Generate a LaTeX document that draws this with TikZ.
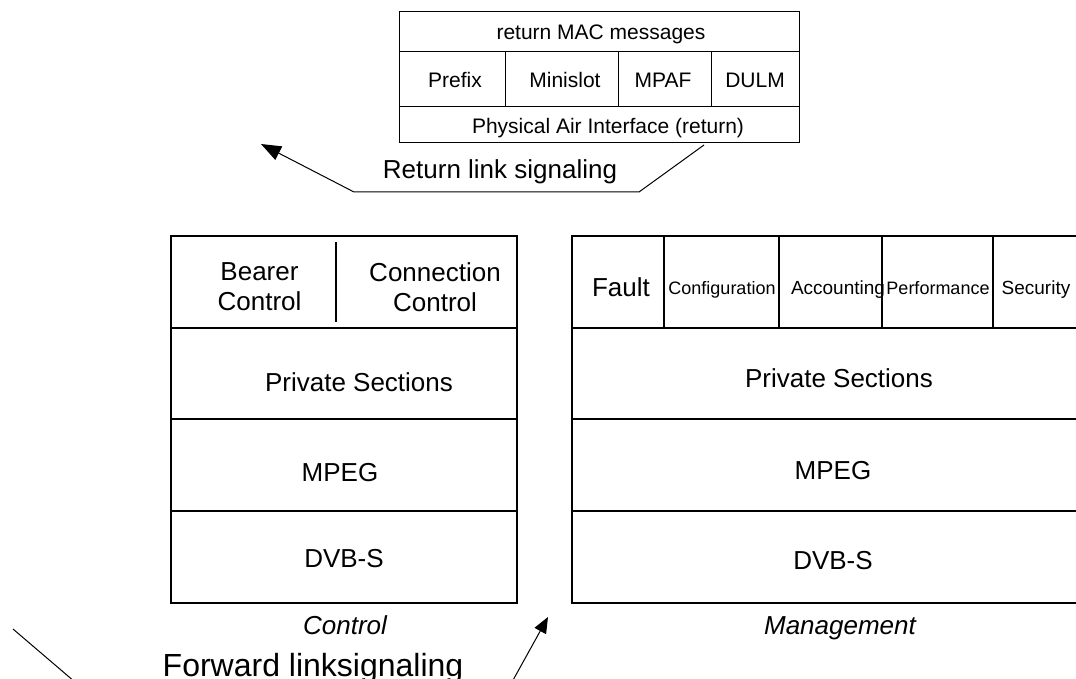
\documentclass[tikz,border=0pt]{standalone}
\usepackage{fontspec}
\setmainfont{Liberation Sans}
\usetikzlibrary{arrows.meta}
\tikzset{
  frame/.style={draw=black, line width=1.3pt},
  hframe/.style={draw=black, line width=1.6pt},
  thin frame/.style={draw=black, line width=1pt},
  big/.style={font=\fontsize{26}{30}\selectfont, inner sep=0pt, anchor=base},
  two/.style={font=\fontsize{26}{30}\selectfont, inner sep=0pt, align=center},
  small/.style={font=\fontsize{21}{25}\selectfont, inner sep=0pt, anchor=base},
  mg/.style={font=\fontsize{19}{22}\selectfont, inner sep=0pt, anchor=base},
  mgs/.style={font=\fontsize{18}{22}\selectfont, inner sep=0pt, anchor=base},
  capt/.style={font=\itshape\fontsize{26}{30}\selectfont, inner sep=0pt, anchor=base},
  sigtxt/.style={font=\fontsize{26}{30}\selectfont, inner sep=0pt, anchor=base},
  fwdtxt/.style={font=\fontsize{32}{36}\selectfont, inner sep=0pt, anchor=base},
  sig/.style={draw=black, line width=1pt},
}
\begin{document}
\begin{tikzpicture}[x=1pt,y=-1pt]
\useasboundingbox (0,0) rectangle (1076,679);
\clip (0,0) rectangle (1076,679);
% ---------- top box (return MAC) ----------
\draw[thin frame] (399,12) rectangle (799,143);
\draw[thin frame] (399,52) -- (799,52);
\draw[thin frame] (399,107) -- (799,107);
\draw[thin frame] (505,52) -- (505,107);
\draw[thin frame] (618,52) -- (618,107);
\draw[thin frame] (711,52) -- (711,107);
\node[small] (mac) at (601,40) {return MAC messages};
\node[small] (prefix) at (455,88) {Prefix};
\node[small] (minislot) at (565,88) {Minislot};
\node[small] (mpaf) at (663,88) {MPAF};
\node[small] (dulm) at (755,88) {DULM};
\node[small] (pai) at (608,134) {Physical Air Interface (return)};
% return link signalling
\coordinate (r0) at (704,145);
\coordinate (r1) at (639,192);
\coordinate (r2) at (354,192);
\coordinate (r3) at (261,144);
\draw[sig, -{Triangle[length=20pt,width=15pt]}] (r0) -- (r1) -- (r2) -- (r3);
\node[sigtxt] (rls) at (500,179) {Return link signaling};
% ---------- Control stack ----------
\draw[frame] (171,236) rectangle (517,603);
\draw[hframe] (171,328) -- (517,328);
\draw[hframe] (171,419) -- (517,419);
\draw[hframe] (171,511) -- (517,511);
\draw[line width=1.3pt] (336,242) -- (336,322);
\node[two] (bearer) at (259.5,287) {Bearer\\Control};
\node[two] (conn) at (435,287) {Connection\\Control};
\node[big] (ps1) at (359,391) {Private Sections};
\node[big] (mpeg1) at (340,481) {MPEG};
\node[big] (dvb1) at (344,567) {DVB-S};
\node[capt] (ctl) at (345,634) {Control};
% ---------- Management stack ----------
\draw[frame] (572,236) rectangle (1100,603);
\draw[hframe] (572,328) -- (1100,328);
\draw[hframe] (572,419) -- (1100,419);
\draw[hframe] (572,511) -- (1100,511);
\draw[frame] (664,236) -- (664,328);
\draw[frame] (779,236) -- (779,328);
\draw[frame] (882,236) -- (882,328);
\draw[frame] (993,236) -- (993,328);
\node[big] (fault) at (621,296) {Fault};
\node[mgs] (conf) at (722,294) {Configuration};
\node[mg] (acc) at (838,294) {Accounting};
\node[mgs] (perf) at (938,294) {Performance};
\node[mg] (sec) at (1036,294) {Security};
\node[big] (ps2) at (839,387) {Private Sections};
\node[big] (mpeg2) at (833,479) {MPEG};
\node[big] (dvb2) at (833,569) {DVB-S};
\node[capt] (mgmt) at (840,634) {Management};
% ---------- forward link signalling ----------
\coordinate (f0) at (13,629);
\coordinate (f1) at (75,682);
\draw[sig] (f0) -- (f1);
\coordinate (g0) at (512,682);
\coordinate (g1) at (548,617);
\draw[sig, -{Triangle[length=16pt,width=13pt]}] (g0) -- (g1);
\node[fwdtxt] (fls) at (313,676) {Forward linksignaling};
\end{tikzpicture}
\end{document}
